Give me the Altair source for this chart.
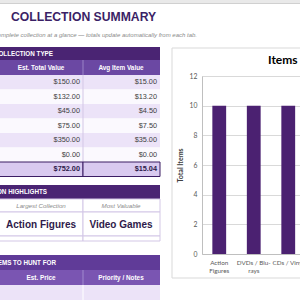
import altair as alt
import pandas as pd

# ---------------- data ----------------
categories = ["Action Figures", "DVDs / Blu-rays", "CDs / Vinyl", "Trading Cards", "Video Games", "Other"]
category_label_lines = [["Action", "Figures"], ["DVDs / Blu-", "rays"], ["CDs / Vinyl"],
                        ["Trading", "Cards"], ["Video", "Games"], ["Other"]]
total_items = [10, 10, 10, 10, 10, 0]
est_total_value = [150.00, 132.00, 45.00, 75.00, 350.00, 0.00]
avg_item_value = [15.00, 13.20, 4.50, 7.50, 35.00, 0.00]
grand_totals = [752.00, 15.04]
y_ticks = [0, 2, 4, 6, 8, 10, 12]

title_text = "COLLECTION SUMMARY"
subtitle_text = "Your complete collection at a glance \u2014 totals update automatically from each tab."
section_titles = ["VALUE BY COLLECTION TYPE", "COLLECTION HIGHLIGHTS", "ITEMS TO HUNT FOR"]
table_headers = ["Est. Total Value", "Avg Item Value"]
highlight_labels = ["Largest Collection", "Most Valuable"]
highlight_values = ["Action Figures", "Video Games"]
hunt_headers = ["Est. Price", "Priority / Notes"]
chart_title = "Items by Collection Type"
y_title = "Total Items"

# ---------------- layout / style ----------------
OX, OY = 202, 76          # plot-area origin on the page
PW, PH = 98, 178          # visible plot area
STEP = 34.5
N = len(categories)

TF = "Liberation Sans"
CF = "Lato"
DARK = "#4a2473"
MID = "#6b48a3"
HUNT_BAND = "#603b98"
HUNT_HEAD = "#7a55b2"
LAV = "#ece3f8"
PALE = "#fbf9fe"
TOT = "#d9caef"
BORDER = "#3b1d63"
LINE = "#d3c7e6"
BAR = "#4b2171"
TITLE_C = "#3b1f66"


def one():
    return pd.DataFrame({"k": [0]})


def box(x1, y1, x2, y2, fill, stroke=None, sw=1.0, opacity=1.0):
    kw = dict(fill=fill, fillOpacity=opacity)
    if stroke:
        kw.update(stroke=stroke, strokeWidth=sw)
    return alt.Chart(one()).mark_rect(**kw).encode(
        x=alt.value(x1 - OX), x2=alt.value(x2 - OX),
        y=alt.value(y1 - OY), y2=alt.value(y2 - OY))


def line(x1, y1, x2, y2, color, sw=1.0):
    return alt.Chart(one()).mark_rule(color=color, strokeWidth=sw).encode(
        x=alt.value(x1 - OX), x2=alt.value(x2 - OX),
        y=alt.value(y1 - OY), y2=alt.value(y2 - OY))


def label(s, x, y, size, color, weight="normal", style="normal", align="left", font=TF):
    return alt.Chart(pd.DataFrame({"t": [s]})).mark_text(
        align=align, baseline="middle", fontSize=size, color=color,
        fontWeight=weight, fontStyle=style, font=font).encode(
        x=alt.value(x - OX), y=alt.value(y - OY), text="t:N")


layers = []

# spreadsheet header strip
layers.append(box(0, 0, 300, 3, "#e9e9e9"))
layers.append(line(0, 3.5, 300, 3.5, "#d0d0d0"))

# title + subtitle
layers.append(label(title_text, 11, 16.5, 12.2, TITLE_C, weight="bold"))
layers.append(label(subtitle_text, 197, 35, 6, "#8a8a8a", style="italic", align="right"))

# ---- collection type table ----
layers.append(box(0, 47, 160, 60, DARK))
layers.append(label(section_titles[0], 53, 53.5, 6.3, "white", weight="bold", align="right"))
layers.append(box(0, 60, 160, 75, MID))
layers.append(line(83, 60, 83, 75, "#9a82c6"))
layers.append(label(table_headers[0], 41, 67.5, 6.4, "white", weight="bold", align="center"))
layers.append(label(table_headers[1], 121, 67.5, 6.4, "white", weight="bold", align="center"))

ROW_TOP, ROW_H = 75.0, 14.5
rows = pd.DataFrame({
    "row": list(range(N)),
    "kind": ["a" if i % 2 == 0 else "b" for i in range(N)],
    "tv": [f"${v:,.2f}" for v in est_total_value],
    "av": [f"${v:,.2f}" for v in avg_item_value],
})
tot = pd.DataFrame({"row": [N], "tv": [f"${grand_totals[0]:,.2f}"], "av": [f"${grand_totals[1]:,.2f}"]})


def row_y(field="row:Q"):
    return alt.Y(field, scale=alt.Scale(domain=[0, N + 1], range=[ROW_TOP - OY, ROW_TOP + ROW_H * (N + 1) - OY],
                                        nice=False, zero=False), axis=None)


base_rows = alt.Chart(rows).transform_calculate(r2="datum.row + 1", rc="datum.row + 0.5")
layers.append(base_rows.mark_rect().encode(
    x=alt.value(0 - OX), x2=alt.value(160 - OX), y=row_y(), y2="r2:Q",
    color=alt.Color("kind:N", scale=alt.Scale(domain=["a", "b"], range=[LAV, PALE]), legend=None)))
layers.append(line(83, ROW_TOP, 83, ROW_TOP + ROW_H * N, LINE))
layers.append(base_rows.mark_text(align="right", baseline="middle", fontSize=7.3, color="#404040", font=TF).encode(
    x=alt.value(80 - OX), y=row_y("rc:Q"), text="tv:N"))
layers.append(base_rows.mark_text(align="right", baseline="middle", fontSize=7.3, color="#404040", font=TF).encode(
    x=alt.value(157 - OX), y=row_y("rc:Q"), text="av:N"))

base_tot = alt.Chart(tot).transform_calculate(r2="datum.row + 1", rc="datum.row + 0.5")
layers.append(base_tot.mark_rect(fill=TOT, stroke=BORDER, strokeWidth=1).encode(
    x=alt.value(-OX - 2), x2=alt.value(83 - OX), y=row_y(), y2="r2:Q"))
layers.append(base_tot.mark_rect(fill=TOT, stroke=BORDER, strokeWidth=1).encode(
    x=alt.value(83 - OX), x2=alt.value(160 - OX), y=row_y(), y2="r2:Q"))
layers.append(base_tot.mark_text(align="right", baseline="middle", fontSize=7.3, color="#2d1a4a",
                                 fontWeight="bold", font=TF).encode(
    x=alt.value(80 - OX), y=row_y("rc:Q"), text="tv:N"))
layers.append(base_tot.mark_text(align="right", baseline="middle", fontSize=7.3, color="#2d1a4a",
                                 fontWeight="bold", font=TF).encode(
    x=alt.value(157 - OX), y=row_y("rc:Q"), text="av:N"))

# ---- highlights ----
layers.append(box(0, 185, 160, 199, DARK))
layers.append(label(section_titles[1], 47, 192, 6.3, "white", weight="bold", align="right"))
for (x1, x2) in [(-2, 83), (83, 160)]:
    layers.append(box(x1, 199, x2, 212, "white", stroke=LINE))
    layers.append(box(x1, 212, x2, 236, "white", stroke=LINE))
    layers.append(box(x1, 236, x2, 241, "white", stroke=LINE))
layers.append(label(highlight_labels[0], 41, 205.5, 6.2, "#8a8a8a", style="italic", align="center"))
layers.append(label(highlight_labels[1], 121, 205.5, 6.2, "#8a8a8a", style="italic", align="center"))
layers.append(label(highlight_values[0], 41, 224.5, 10, "#2e1a4a", weight="bold", align="center"))
layers.append(label(highlight_values[1], 121, 224.5, 10, "#2e1a4a", weight="bold", align="center"))

# ---- items to hunt for ----
layers.append(box(0, 255, 160, 270, HUNT_BAND))
layers.append(label(section_titles[2], 56, 262.5, 6.3, "white", weight="bold", align="right"))
layers.append(box(0, 270, 160, 285, HUNT_HEAD))
layers.append(line(83, 270, 83, 285, "#a08ace"))
layers.append(label(hunt_headers[0], 41, 277.5, 6.4, "white", weight="bold", align="center"))
layers.append(label(hunt_headers[1], 121, 277.5, 6.4, "white", weight="bold", align="center"))
layers.append(box(0, 285, 160, 300, LAV))
layers.append(line(83, 285, 83, 300, "white"))

# ---- chart area ----
layers.append(box(172, 48, 520, 278, "white", stroke="#d9d9d9", opacity=0))
layers.append(label(chart_title, 268, 60, 12, "#000000", weight="bold", font=CF))

label_expr = ""
for cat, lines in zip(categories, category_label_lines):
    arr = "[" + ",".join("'" + s + "'" for s in lines) + "]"
    label_expr += f"datum.label == '{cat}' ? {arr} : "
label_expr += "datum.label"

bars_df = pd.DataFrame({"category": categories, "items": total_items})
bars = alt.Chart(bars_df).mark_bar(color=BAR).encode(
    x=alt.X("category:N", sort=categories,
            scale=alt.Scale(domain=categories, range=[0, STEP * N], paddingInner=0.6, paddingOuter=0.3),
            axis=alt.Axis(title=None, labelAngle=0, labelExpr=label_expr, labelFont=CF, labelFontSize=6.3,
                          labelColor="#595959", labelPadding=5, labelLineHeight=8, ticks=False,
                          domainColor="#bfbfbf", labelOverlap=False, labelLimit=0)),
    y=alt.Y("items:Q", scale=alt.Scale(domain=[0, 12], nice=False),
            axis=alt.Axis(title=y_title, values=y_ticks, grid=True, gridColor="#d9d9d9", ticks=False,
                          domainColor="#bfbfbf", labelFont=CF, labelFontSize=6.8, labelColor="#595959",
                          labelPadding=5, titleFont=CF, titleFontSize=7, titleFontWeight="bold",
                          titleColor="#404040", titlePadding=6)),
)
layers.append(bars)

chart = alt.layer(*layers).resolve_scale(y="independent").properties(
    width=PW, height=PH,
    autosize=alt.AutoSizeParams(type="none"),
    padding={"left": OX, "top": OY, "right": 0, "bottom": 300 - OY - PH},
).configure_view(stroke=None).configure(background="white")

chart.save("out.html", embed_options={"renderer": "svg", "actions": False})
